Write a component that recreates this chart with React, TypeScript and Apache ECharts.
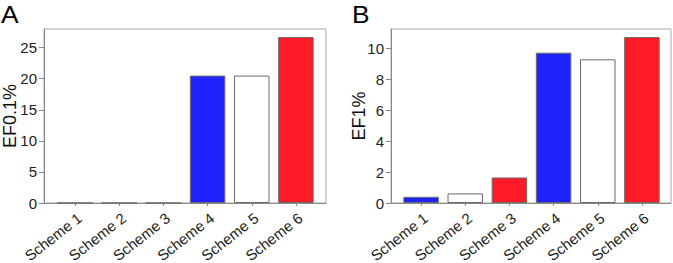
import React, { useEffect, useRef } from "react";
import * as echarts from "echarts";

const categories = ["Scheme 1", "Scheme 2", "Scheme 3", "Scheme 4", "Scheme 5", "Scheme 6"];
const ef01Values = [0, 0, 0, 20.5, 20.5, 26.7];
const ef1Values = [0.4, 0.62, 1.65, 9.72, 9.29, 10.73];
const schemeColors = ["#1f24ff", "#ffffff", "#ff1a27", "#1f24ff", "#ffffff", "#ff1a27"];
const ef01Ticks = [0, 5, 10, 15, 20, 25];
const ef1Ticks = [0, 2, 4, 6, 8, 10];
const ef01Max = 28;
const ef1Max = 11.25;
const panelLetters = ["A", "B"];
const yTitles = ["EF0.1%", "EF1%"];

const FONT = "Liberation Sans, Arial, sans-serif";
const AXIS_COLOR = "#8a8a8a";
const FRAME_COLOR = "#a8a8a8";

function buildPanel(
  idx: number,
  frame: { left: number; width: number },
  inner: { left: number; width: number },
  values: number[],
  ticks: number[],
  max: number,
  title: string,
  nameGap: number
) {
  const g0 = idx * 2;
  const g1 = idx * 2 + 1;
  const grids = [
    {
      left: frame.left,
      top: 29,
      width: frame.width,
      height: 174,
      show: true,
      borderColor: FRAME_COLOR,
      borderWidth: 1,
      backgroundColor: "transparent",
      outerBoundsMode: "none",
    },
    { left: inner.left, top: 29, width: inner.width, height: 174, outerBoundsMode: "none" },
  ];
  const xAxes = [
    {
      gridIndex: g0,
      type: "value",
      min: 0,
      max: 1,
      axisLine: { show: true, onZero: false, lineStyle: { color: AXIS_COLOR, width: 1 } },
      axisTick: { show: false },
      axisLabel: { show: false },
      splitLine: { show: false },
    },
    {
      gridIndex: g1,
      type: "category",
      data: categories,
      axisLine: { show: false },
      axisTick: {
        show: true,
        alignWithLabel: true,
        interval: 0,
        length: 3,
        lineStyle: { color: AXIS_COLOR },
      },
      axisLabel: {
        interval: 0,
        rotate: 38,
        align: "right",
        verticalAlign: "top",
        fontSize: 15,
        margin: 7,
        color: "#222",
        fontFamily: FONT,
      },
    },
  ];
  const yAxes = [
    {
      gridIndex: g0,
      type: "value",
      min: 0,
      max: max,
      axisLine: { show: true, lineStyle: { color: AXIS_COLOR, width: 1 } },
      axisTick: { show: true, length: 5, customValues: ticks, lineStyle: { color: AXIS_COLOR } },
      axisLabel: { customValues: ticks, fontSize: 15, margin: 7, color: "#222", fontFamily: FONT },
      splitLine: { show: false },
      name: title,
      nameLocation: "middle",
      nameGap: nameGap,
      nameMoveOverlap: false,
      nameTextStyle: { fontSize: 18, color: "#111", fontFamily: FONT },
    },
    { gridIndex: g1, type: "value", min: 0, max: max, show: false, splitLine: { show: false } },
  ];
  const series = [
    {
      type: "bar",
      xAxisIndex: g1,
      yAxisIndex: g1,
      barWidth: 35.5,
      itemStyle: { borderColor: "#6b6b6b", borderWidth: 1 },
      data: values.map((v, i) => ({ value: v, itemStyle: { color: schemeColors[i] } })),
    },
  ];
  return { grids, xAxes, yAxes, series };
}

export default function App() {
  const ref = useRef<HTMLDivElement>(null);
  useEffect(() => {
    if (!ref.current) return;
    const chart = echarts.init(ref.current, null, { renderer: "svg" });
    const a = buildPanel(0, { left: 44, width: 282 }, { left: 53, width: 265 }, ef01Values, ef01Ticks, ef01Max, yTitles[0], 25);
    const b = buildPanel(1, { left: 391, width: 280 }, { left: 399, width: 265 }, ef1Values, ef1Ticks, ef1Max, yTitles[1], 23);
    chart.setOption({
      animation: false,
      backgroundColor: "#ffffff",
      grid: [...a.grids, ...b.grids],
      xAxis: [...a.xAxes, ...b.xAxes],
      yAxis: [...a.yAxes, ...b.yAxes],
      series: [...a.series, ...b.series],
      graphic: [
        {
          type: "text",
          left: 1,
          top: 2,
          scaleX: 1.1,
          style: { text: panelLetters[0], fontSize: 24, fontFamily: FONT, fill: "#000" },
        },
        {
          type: "text",
          left: 352,
          top: 2,
          scaleX: 1.1,
          style: { text: panelLetters[1], fontSize: 24, fontFamily: FONT, fill: "#000" },
        },
      ],
    });
    return () => chart.dispose();
  }, []);
  return (
    <div
      ref={ref}
      style={{ position: "fixed", left: 0, top: 0, width: 673, height: 263, background: "#fff" }}
    />
  );
}
